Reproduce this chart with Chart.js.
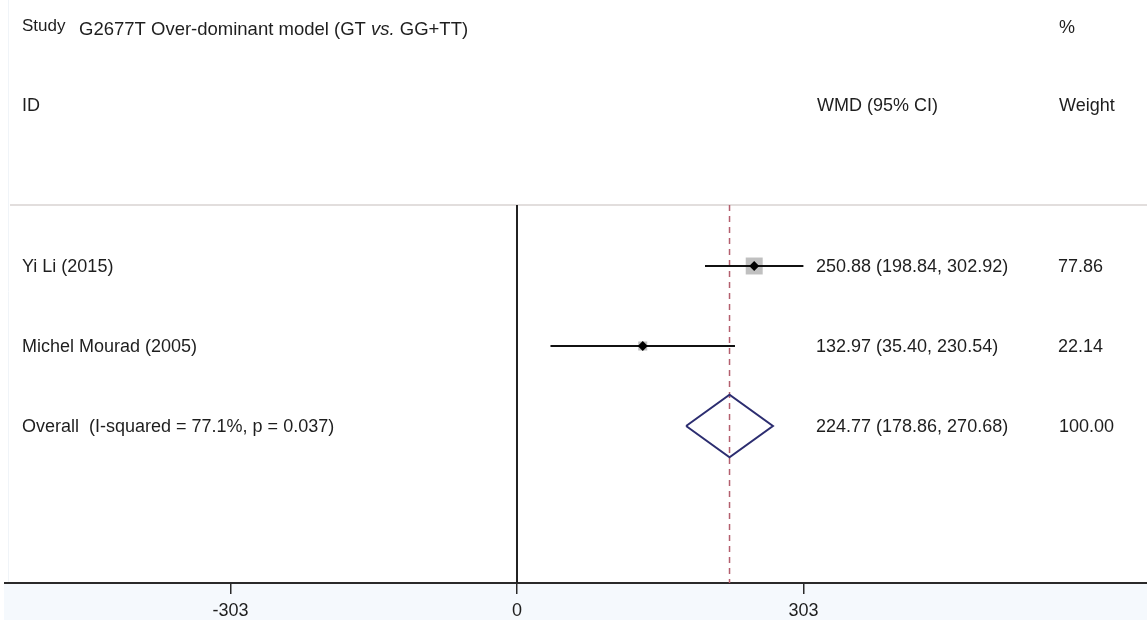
<!DOCTYPE html>
<html>
<head>
<meta charset="utf-8">
<title>G2677T Over-dominant model forest plot</title>
<script src="https://cdn.jsdelivr.net/npm/chart.js@4/dist/chart.umd.min.js"></script>
<style>
  html, body { margin: 0; padding: 0; background: #ffffff; }
  #wrap { width: 1147px; height: 620px; position: relative; }
</style>
</head>
<body>
<div id="wrap"><canvas id="forest" width="1147" height="620"></canvas></div>
<script>
// Study-level results (WMD with 95% CI) and weights
const studies   = ['Yi Li (2015)', 'Michel Mourad (2005)'];
const estimates = [250.88, 132.97];
const lower     = [198.84, 35.40];
const upper     = [302.92, 230.54];
const weights   = [77.86, 22.14];

// Pooled estimate
const overallLabel  = 'Overall  (I-squared = 77.1%, p = 0.037)';
const overallEst    = 224.77;
const overallLower  = 178.86;
const overallUpper  = 270.68;
const overallWeight = 100.00;

// Axis ticks
const tickValues = [-303, 0, 303];

// ---- layout / style ----
const FONT = "'Liberation Sans', Arial, Helvetica, sans-serif";
const TEXT = '#1e1e1e';
const X_MIN = -541.5, X_MAX = 666.3;
const Y_MIN = 0.2375, Y_MAX = 4.9625;
const overallRow = studies.length + 1;
const diamondHalf = 0.39;

const datasets = [];

// zero reference line
datasets.push({
  type: 'line', order: 20,
  data: [{x: 0, y: Y_MIN}, {x: 0, y: Y_MAX}],
  borderColor: '#222222', borderWidth: 2, pointRadius: 0
});
// pooled estimate reference line
datasets.push({
  type: 'line', order: 19,
  data: [{x: overallEst, y: Y_MIN}, {x: overallEst, y: Y_MAX}],
  borderColor: '#b45f6e', borderWidth: 1.5, borderDash: [6, 5], pointRadius: 0
});
// weight boxes
datasets.push({
  type: 'scatter', order: 10,
  data: studies.map((s, i) => ({x: estimates[i], y: i + 1})),
  pointStyle: 'rect',
  pointRadius: weights.map(w => 1.36 * Math.sqrt(w)),
  pointBackgroundColor: '#c0c0c0', pointBorderWidth: 0
});
// confidence intervals
studies.forEach((s, i) => {
  datasets.push({
    type: 'line', order: 5,
    data: [{x: lower[i], y: i + 1}, {x: upper[i], y: i + 1}],
    borderColor: '#111111', borderWidth: 2, pointRadius: 0
  });
});
// point estimates
datasets.push({
  type: 'scatter', order: 1,
  data: studies.map((s, i) => ({x: estimates[i], y: i + 1})),
  pointStyle: 'rectRot', pointRadius: 5,
  pointBackgroundColor: '#000000', pointBorderWidth: 0
});
// pooled diamond
datasets.push({
  type: 'line', order: 2,
  data: [
    {x: overallLower, y: overallRow},
    {x: overallEst,   y: overallRow - diamondHalf},
    {x: overallUpper, y: overallRow},
    {x: overallEst,   y: overallRow + diamondHalf},
    {x: overallLower, y: overallRow}
  ],
  borderColor: '#2c2d70', borderWidth: 2, pointRadius: 0, fill: false,
  tension: 0, borderJoinStyle: 'miter'
});

const fmt = v => v.toFixed(2);

const decor = {
  id: 'decor',
  beforeDraw(chart) {
    const {ctx, chartArea} = chart;
    ctx.save();
    // shaded band under the axis
    ctx.fillStyle = '#f5f9fd';
    ctx.fillRect(4, chartArea.bottom, chart.width - 4, chart.height - chartArea.bottom);
    // faint left frame
    ctx.strokeStyle = '#f0f4f8';
    ctx.lineWidth = 1;
    ctx.beginPath();
    ctx.moveTo(8.5, 0); ctx.lineTo(8.5, chartArea.bottom);
    ctx.stroke();
    // header separator
    ctx.strokeStyle = '#e2dedd';
    ctx.lineWidth = 2;
    ctx.beginPath();
    ctx.moveTo(10, chartArea.top); ctx.lineTo(chart.width, chartArea.top);
    ctx.stroke();
    ctx.restore();
  },
  afterDraw(chart) {
    const {ctx} = chart;
    const ys = chart.scales.y;
    ctx.save();
    ctx.fillStyle = TEXT;
    ctx.textBaseline = 'middle';
    ctx.textAlign = 'left';

    // header
    ctx.font = '17px ' + FONT;
    ctx.fillText('Study', 22, 26);
    let x = 79;
    const parts = [['G2677T Over-dominant model (GT ', ''], ['vs.', 'italic '], [' GG+TT)', '']];
    parts.forEach(([t, st]) => {
      ctx.font = st + '18.5px ' + FONT;
      ctx.fillText(t, x, 29.5);
      x += ctx.measureText(t).width;
    });
    ctx.font = '18px ' + FONT;
    ctx.fillText('%', 1059, 28);
    ctx.fillText('ID', 22, 106);
    ctx.fillText('WMD (95% CI)', 817, 106);
    ctx.fillText('Weight', 1059, 106);

    // study rows
    studies.forEach((s, i) => {
      const y = ys.getPixelForValue(i + 1) + 1;
      ctx.fillText(s, 22, y);
      ctx.fillText(fmt(estimates[i]) + ' (' + fmt(lower[i]) + ', ' + fmt(upper[i]) + ')', 816, y);
      ctx.fillText(fmt(weights[i]), 1058, y);
    });
    // pooled row
    const yo = ys.getPixelForValue(overallRow) + 1;
    ctx.fillText(overallLabel, 22, yo);
    ctx.fillText(fmt(overallEst) + ' (' + fmt(overallLower) + ', ' + fmt(overallUpper) + ')', 816, yo);
    ctx.fillText(fmt(overallWeight), 1059, yo);
    ctx.restore();
  }
};

new Chart(document.getElementById('forest'), {
  type: 'line',
  data: { datasets },
  options: {
    responsive: false,
    animation: false,
    events: [],
    layout: { autoPadding: false, padding: { top: 205, left: 5, right: 0, bottom: 0 } },
    plugins: { legend: { display: false }, tooltip: { enabled: false } },
    scales: {
      x: {
        type: 'linear', position: 'bottom',
        min: X_MIN, max: X_MAX,
        afterBuildTicks(scale) { scale.ticks = tickValues.map(v => ({value: v})); },
        afterFit(scale) { scale.height = 37; },
        grid: { drawOnChartArea: false, drawTicks: true, tickLength: 11, color: '#2a2a2a', lineWidth: 1.5 },
        border: { display: true, color: '#2a2a2a', width: 2 },
        ticks: { color: TEXT, padding: 6, maxRotation: 0, autoSkip: false,
                 font: { family: FONT, size: 18 },
                 callback: v => String(v) }
      },
      y: {
        type: 'linear', reverse: true, display: false,
        min: Y_MIN, max: Y_MAX
      }
    }
  },
  plugins: [decor]
});
</script>
</body>
</html>
